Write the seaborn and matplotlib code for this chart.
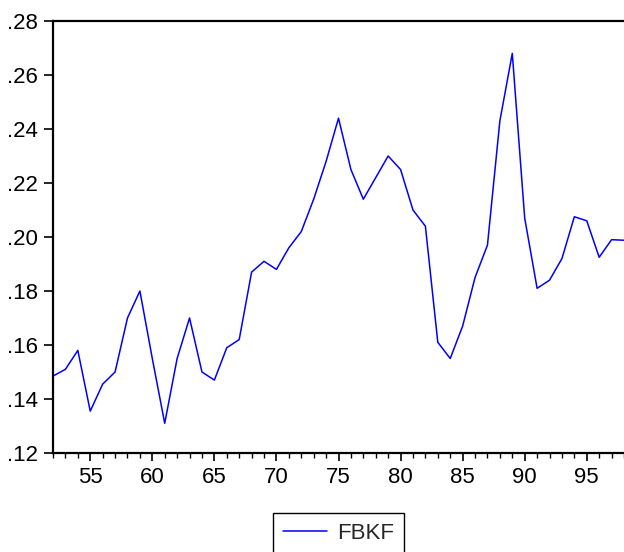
import matplotlib
matplotlib.use('Agg')
import matplotlib.pyplot as plt
import seaborn as sns
import pandas as pd
from matplotlib.ticker import FixedLocator, MultipleLocator

# ---- data ----
years = list(range(1952, 1999))
fbkf = [0.1485, 0.151, 0.158, 0.1355, 0.1455, 0.150, 0.170, 0.180, 0.155, 0.131,
        0.155, 0.170, 0.150, 0.147, 0.159, 0.162, 0.187, 0.191, 0.188, 0.196,
        0.202, 0.214, 0.228, 0.244, 0.225, 0.214, 0.222, 0.230, 0.225, 0.210,
        0.204, 0.161, 0.155, 0.167, 0.185, 0.197, 0.243, 0.268, 0.207, 0.181,
        0.184, 0.192, 0.2075, 0.206, 0.1925, 0.199, 0.1988]
xtick_years = [1955, 1960, 1965, 1970, 1975, 1980, 1985, 1990, 1995]
xtick_labels = ["55", "60", "65", "70", "75", "80", "85", "90", "95"]
ytick_values = [0.12, 0.14, 0.16, 0.18, 0.20, 0.22, 0.24, 0.26, 0.28]
ytick_labels = [".12", ".14", ".16", ".18", ".20", ".22", ".24", ".26", ".28"]
series_name = "FBKF"

df = pd.DataFrame({"year": years, series_name: fbkf})

sns.set_theme(style="white")
plt.rcParams['font.family'] = ['Liberation Sans', 'DejaVu Sans']

fig = plt.figure(figsize=(6.24, 5.52), dpi=100)
ax = fig.add_axes([53 / 624, 1 - 453 / 552, 1 - 53 / 624, (453 - 21) / 552])

sns.lineplot(data=df, x="year", y=series_name, ax=ax, color="#0000ff",
             linewidth=1.1, legend=False)

ax.set_xlim(1952, 1998)
ax.set_ylim(0.12, 0.28)
ax.xaxis.set_major_locator(FixedLocator(xtick_years))
ax.set_xticklabels(xtick_labels)
ax.xaxis.set_minor_locator(MultipleLocator(1))
ax.yaxis.set_major_locator(FixedLocator(ytick_values))
ax.set_yticklabels(ytick_labels)
ax.set_xlabel("")
ax.set_ylabel("")

for s in ["left", "bottom", "top"]:
    ax.spines[s].set_visible(True)
    ax.spines[s].set_color("black")
    ax.spines[s].set_linewidth(1.6)
ax.spines["right"].set_visible(False)

ax.tick_params(axis="both", which="major", direction="out", length=6, width=1.2,
               color="black", labelsize=16, labelcolor="black", bottom=True, left=True, pad=4)
ax.tick_params(axis="x", which="minor", direction="out", length=3.5, width=1.0,
               color="black", bottom=True)
ax.tick_params(axis="y", which="major", length=6.5, pad=4.5)

leg = fig.legend(ax.get_lines(), [series_name], loc="upper center",
                 bbox_to_anchor=(338.5 / 624, 1 - 513 / 552), frameon=True,
                 fancybox=False, edgecolor="black", framealpha=1, fontsize=16,
                 handlelength=1.95, handletextpad=0.45, borderpad=0.45,
                 borderaxespad=0)
leg.get_frame().set_linewidth(1.0)

fig.savefig("out.png", dpi=100)
